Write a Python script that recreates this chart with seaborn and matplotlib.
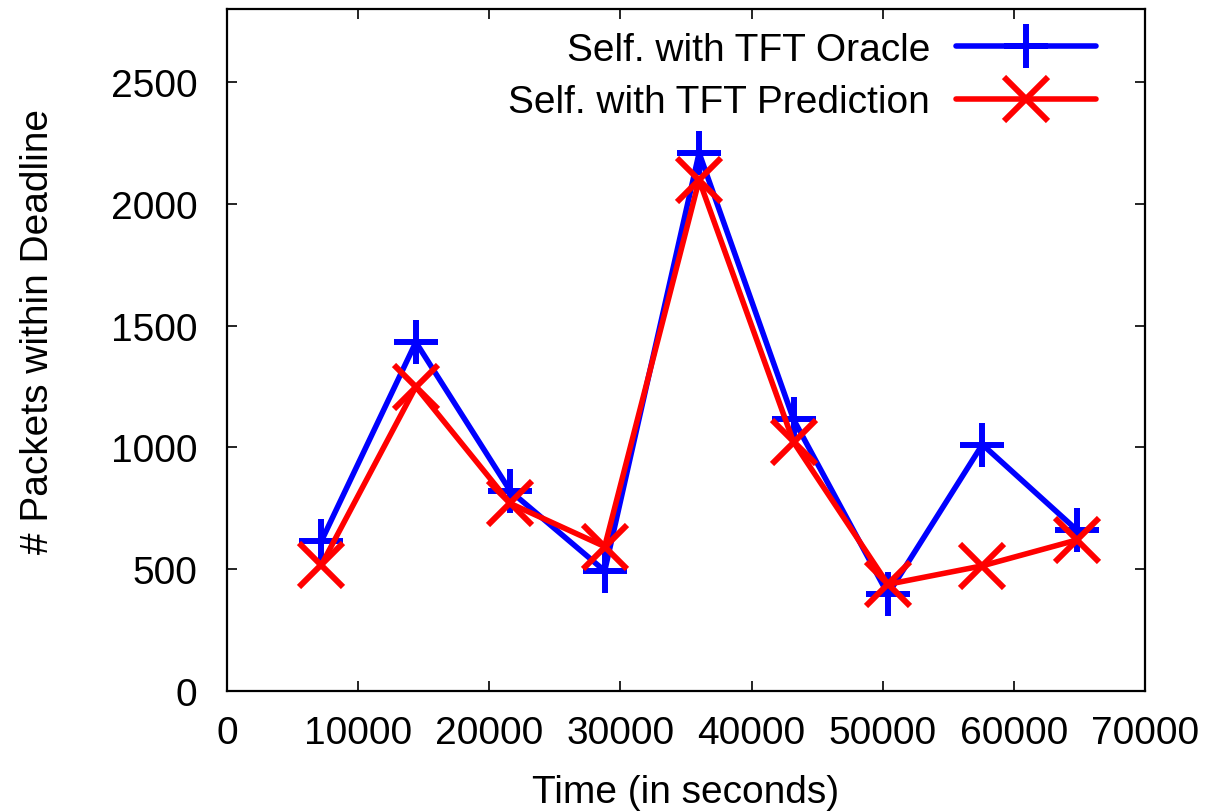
import numpy as np
import pandas as pd
import matplotlib
matplotlib.use("Agg")
import matplotlib.pyplot as plt
import seaborn as sns

time_s = [7200, 14400, 21600, 28800, 36000, 43200, 50400, 57600, 64800]
oracle = [616, 1432, 821, 493, 2209, 1115, 397, 1012, 661]
prediction = [518, 1249, 770, 593, 2098, 1022, 438, 514, 620]
series_names = ["Self. with TFT Oracle", "Self. with TFT Prediction"]
x_ticks = [0, 10000, 20000, 30000, 40000, 50000, 60000, 70000]
y_ticks = [0, 500, 1000, 1500, 2000, 2500]

sns.set_theme(style="ticks")
plt.rcParams["font.family"] = ["Liberation Sans", "DejaVu Sans"]
plt.rcParams["text.color"] = "black"
plt.rcParams["axes.labelcolor"] = "black"
plt.rcParams["xtick.color"] = "black"
plt.rcParams["ytick.color"] = "black"

fig = plt.figure(figsize=(12.09, 8.12), dpi=100)
ax = fig.add_axes([227 / 1209, 1 - 692 / 812, (1145 - 227) / 1209, (692 - 10) / 812])

df_o = pd.DataFrame({"t": time_s, "v": oracle})
df_p = pd.DataFrame({"t": time_s, "v": prediction})

sns.lineplot(data=df_o, x="t", y="v", ax=ax, color="#0000ff", marker="+",
             markersize=31, markeredgewidth=4.3, markeredgecolor="#0000ff",
             linewidth=4.0, label=series_names[0])
sns.lineplot(data=df_p, x="t", y="v", ax=ax, color="#ff0000", marker="x",
             markersize=31, markeredgewidth=4.3, markeredgecolor="#ff0000",
             linewidth=4.0, label=series_names[1])

ax.set_xlim(0, 70000)
ax.set_ylim(0, 2800)
ax.set_xticks(x_ticks)
ax.set_yticks(y_ticks)
ax.set_xticklabels([str(v) for v in x_ticks], fontsize=28)
ax.set_yticklabels([str(v) for v in y_ticks], fontsize=28)
ax.tick_params(direction="in", length=7, width=1.2, top=True, right=True, colors="black")
ax.tick_params(axis="x", pad=17)
ax.tick_params(axis="y", pad=21.5)
for s in ax.spines.values():
    s.set_visible(True)
    s.set_linewidth(1.6)
    s.set_color("black")

ax.set_xlabel("Time (in seconds)", fontsize=28, labelpad=17)
ax.set_ylabel("# Packets within Deadline", fontsize=28)
ax.yaxis.set_label_coords(-0.186, 0.529)

leg = ax.legend(loc="upper right", bbox_to_anchor=(1096 / 1209, 1 - 33 / 812),
                bbox_transform=fig.transFigure, frameon=False, markerfirst=False,
                fontsize=28, handlelength=3.6, handletextpad=0.67, borderpad=0,
                labelspacing=0.42, borderaxespad=0)

fig.savefig("out.png", dpi=100)
